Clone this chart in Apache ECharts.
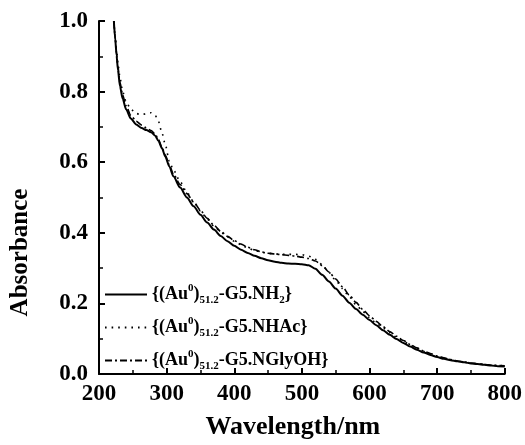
<!DOCTYPE html>
<html>
<head>
<meta charset="utf-8">
<script src="https://cdn.jsdelivr.net/npm/echarts@6/dist/echarts.min.js"></script>
<style>
  html, body { margin: 0; padding: 0; background: #fff; }
  #chart { width: 525px; height: 445px; }
</style>
</head>
<body>
<div id="chart"></div>
<script>
// UV-vis absorbance spectra of three gold dendrimer nanocomposites
const wavelengths = [222, 224, 226, 228, 231, 235, 240, 247, 255, 263, 270, 277, 283, 288, 293, 298, 304, 310,
  320, 330, 340, 350, 360, 370, 380, 390, 400, 410, 420, 430, 440, 450, 460, 470, 480, 490, 500,
  510, 520, 530, 540, 550, 560, 570, 580, 590, 600, 610, 620, 630, 640, 650, 660, 670, 680, 690, 700,
  710, 720, 730, 740, 750, 760, 770, 780, 790, 800];

const absNH2 = [1.000, 0.948, 0.902, 0.862, 0.815, 0.780, 0.750, 0.724, 0.707, 0.697, 0.691, 0.685, 0.675, 0.660, 0.640, 0.616, 0.588, 0.560,
  0.528, 0.500, 0.475, 0.451, 0.429, 0.409, 0.391, 0.376, 0.363, 0.352, 0.343, 0.335, 0.328, 0.322, 0.318, 0.315, 0.313, 0.312, 0.311,
  0.308, 0.298, 0.281, 0.262, 0.242, 0.222, 0.202, 0.184, 0.168, 0.153, 0.138, 0.124, 0.111, 0.099, 0.088, 0.078, 0.069, 0.061, 0.054, 0.048,
  0.043, 0.039, 0.036, 0.033, 0.030, 0.028, 0.026, 0.024, 0.022, 0.021];

const absNHAc = [1.000, 0.955, 0.915, 0.880, 0.840, 0.800, 0.772, 0.750, 0.738, 0.734, 0.738, 0.740, 0.733, 0.715, 0.684, 0.650, 0.603, 0.578,
  0.545, 0.515, 0.488, 0.462, 0.439, 0.419, 0.402, 0.388, 0.376, 0.366, 0.357, 0.350, 0.345, 0.342, 0.340, 0.339, 0.339, 0.339, 0.338,
  0.334, 0.325, 0.310, 0.288, 0.265, 0.242, 0.219, 0.197, 0.177, 0.160, 0.144, 0.130, 0.117, 0.104, 0.093, 0.082, 0.073, 0.064, 0.057, 0.051,
  0.046, 0.041, 0.037, 0.034, 0.031, 0.029, 0.027, 0.025, 0.024, 0.023];

const absNGlyOH = [1.000, 0.952, 0.908, 0.870, 0.826, 0.790, 0.760, 0.733, 0.716, 0.705, 0.697, 0.690, 0.680, 0.664, 0.642, 0.620, 0.592, 0.566,
  0.537, 0.511, 0.487, 0.464, 0.441, 0.421, 0.404, 0.390, 0.378, 0.368, 0.359, 0.352, 0.346, 0.342, 0.340, 0.338, 0.336, 0.334, 0.331,
  0.327, 0.320, 0.307, 0.289, 0.269, 0.247, 0.224, 0.203, 0.183, 0.165, 0.149, 0.134, 0.120, 0.107, 0.095, 0.084, 0.074, 0.065, 0.058, 0.051,
  0.046, 0.041, 0.037, 0.034, 0.031, 0.029, 0.027, 0.025, 0.024, 0.023];

const seriesNames = ['NH2', 'NHAc', 'NGlyOH'];
const suffixRich = {
  NH2: '-G5.NH{sub|2}}',
  NHAc: '-G5.NHAc}',
  NGlyOH: '-G5.NGlyOH}'
};
const xTicks = { min: 200, max: 800, step: 100 };
const yTicks = { min: 0, max: 1.0, step: 0.2 };

const FONT = '"Liberation Serif", "Times New Roman", serif';

const pair = (vals) => wavelengths.map((w, i) => [w, vals[i]]);

function lineSeries(name, vals, width, type) {
  return {
    name: name,
    type: 'line',
    data: pair(vals),
    symbol: 'none',
    smooth: 0.25,
    smoothMonotone: 'x',
    lineStyle: { color: '#000', width: width, type: type },
    itemStyle: { color: '#000' },
    emphasis: { disabled: true },
    z: 3
  };
}

const chart = echarts.init(document.getElementById('chart'), null, { renderer: 'canvas' });

chart.setOption({
  animation: false,
  backgroundColor: '#fff',
  grid: { left: 94, right: 19, top: 21, bottom: 64, containLabel: false },
  xAxis: {
    type: 'value',
    min: xTicks.min, max: xTicks.max, interval: xTicks.step,
    name: 'Wavelength/nm',
    nameLocation: 'middle',
    nameGap: 40,
    nameTextStyle: { fontFamily: FONT, fontWeight: 'bold', fontSize: 26, color: '#000', padding: [0, 18, 0, 0] },
    axisLine: { lineStyle: { color: '#000', width: 2 } },
    axisTick: { inside: true, length: 6, lineStyle: { color: '#000', width: 2 } },
    minorTick: { show: true, splitNumber: 2, length: 4, lineStyle: { color: '#000', width: 1.5 } },
    splitLine: { show: false },
    axisLabel: { fontFamily: FONT, fontWeight: 'bold', fontSize: 23, color: '#000', margin: 9 }
  },
  yAxis: {
    type: 'value',
    min: yTicks.min, max: yTicks.max, interval: yTicks.step,
    name: 'Absorbance',
    nameLocation: 'middle',
    nameGap: 66,
    nameTextStyle: { fontFamily: FONT, fontWeight: 'bold', fontSize: 25, color: '#000', padding: [0, 110, 0, 0] },
    axisLine: { lineStyle: { color: '#000', width: 2 } },
    axisTick: { inside: true, length: 6, lineStyle: { color: '#000', width: 2 } },
    minorTick: { show: true, splitNumber: 2, length: 4, lineStyle: { color: '#000', width: 1.5 } },
    splitLine: { show: false },
    axisLabel: {
      fontFamily: FONT, fontWeight: 'bold', fontSize: 23, color: '#000', margin: 11,
      formatter: (v) => v.toFixed(1)
    }
  },
  legend: {
    orient: 'vertical',
    left: 99,
    top: 278,
    itemWidth: 42,
    itemHeight: 12,
    itemGap: 10,
    data: seriesNames,
    itemStyle: { color: 'rgba(0,0,0,0)', borderWidth: 0, opacity: 0 },
    formatter: (name) => '{(Au{sup|0}){sub|51.2}' + suffixRich[name],
    textStyle: {
      fontFamily: FONT, fontWeight: 'bold', fontSize: 18, color: '#000',
      rich: {
        sup: { fontFamily: FONT, fontWeight: 'bold', fontSize: 11, color: '#000', verticalAlign: 'top', padding: [0, 0, 12, 0] },
        sub: { fontFamily: FONT, fontWeight: 'bold', fontSize: 11, color: '#000', verticalAlign: 'bottom', padding: [12, 0, 0, 0] }
      }
    },
    selectedMode: false
  },
  series: [
    lineSeries('NH2', absNH2, 2, 'solid'),
    lineSeries('NHAc', absNHAc, 1.6, [1.6, 5]),
    lineSeries('NGlyOH', absNGlyOH, 1.6, [7, 3, 2, 3])
  ]
});
</script>
</body>
</html>
